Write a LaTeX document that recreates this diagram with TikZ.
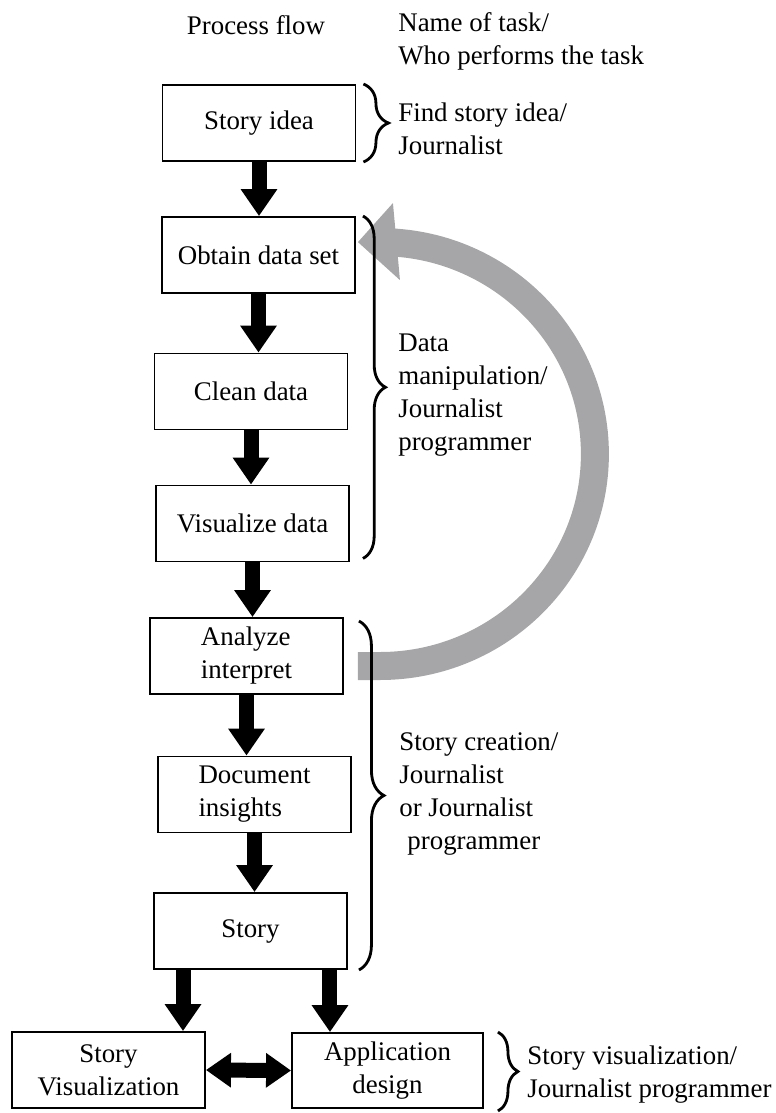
\documentclass[tikz,border=0pt]{standalone}
\usepackage{fontspec}
\setmainfont{Liberation Serif}
\usetikzlibrary{arrows.meta,decorations.pathreplacing,calc}
\definecolor{loopgray}{RGB}{166,166,168}

\begin{document}
\begin{tikzpicture}[x=0.02cm,y=-0.02cm,
    font=\fontsize{15.3}{18.8}\selectfont,
    box/.style={draw,line width=1.1pt,minimum width=3.86cm,minimum height=1.52cm,inner sep=2pt,align=left},
    flow/.style={line width=0.3cm,-{Triangle[width=0.7cm,length=0.54cm]}},
    taskbrace/.style={decorate,decoration={brace,amplitude=#1},line width=1.6pt},
    taskbrace/.default=0.45cm,
    task/.style={anchor=west,align=left,inner sep=0pt}]
    \useasboundingbox (0,0) rectangle (775,1113);

    % headings
    \node (flowhead) at (256,25) {Process flow};
    \node[task] (taskhead) at (398,41) {Name of task/\\Who performs the task};

    % process flow
    \node[box] (idea) at (259,123) {Story idea};
    \node[box] (obtain) at (258.5,255) {Obtain data set};
    \node[box] (clean) at (251,391.5) {Clean data};
    \node[box] (visual) at (252.5,523.5) {Visualize data};
    \node[box] (analyze) at (246.5,656) {Analyze\\interpret};
    \node[box] (insight) at (254.5,794.5) {Document\\insights};
    \node[box] (story) at (250.5,931) {Story};
    \node[box,align=center] (storyvis) at (108.5,1070) {Story\\Visualization};
    \node[box,align=center,minimum width=3.82cm,minimum height=1.5cm] (appdesign) at (387.5,1070.5) {Application\\design};

    \draw[flow] (idea.south) -- (idea.south |- obtain.north);
    \draw[flow] (obtain.south) -- (obtain.south |- clean.north);
    \draw[flow] (clean.south) -- (clean.south |- visual.north);
    \draw[flow] (visual.south) -- (visual.south |- analyze.north);
    \draw[flow] (analyze.south) -- (analyze.south |- insight.north);
    \draw[flow] (insight.south) -- (insight.south |- story.north);
    \draw[flow] ([xshift=-1.35cm]story.south) -- ([xshift=-1.35cm]story.south |- storyvis.north);
    \draw[flow] ([xshift=1.59cm]story.south) -- ([xshift=1.59cm]story.south |- appdesign.north);
    \draw[flow,{Triangle[width=0.66cm,length=0.5cm]}-{Triangle[width=0.66cm,length=0.5cm]}] (storyvis.east) -- (appdesign.west);

    % loop back to the data
    \coordinate (loopstart) at ($(analyze.east)+(14,10)$);
    \draw[loopgray,line width=0.56cm] (loopstart) -- ++(22,0)
        arc[start angle=-90,end angle=90,x radius=4.3cm,y radius=4.24cm] coordinate (loopend);
    \fill[loopgray] ($(loopend)+(-22,0)$) -- ++(35,-39) -- ++(7,77) -- cycle;

    % tasks
    \coordinate (ideatop) at ($(idea.north east)+(7,0)$);
    \coordinate (datatop) at ($(obtain.north east)+(7,0)$);
    \coordinate (storytop) at ($(analyze.north east)+(15,4)$);
    \coordinate (apptop) at ($(appdesign.north east)+(14,0)$);
    \draw[taskbrace=0.5cm] (ideatop) -- (ideatop |- idea.south);
    \draw[taskbrace] (datatop) -- ($(datatop |- visual.south)+(0,-4)$);
    \draw[taskbrace=0.5cm] (storytop) -- (storytop |- story.south);
    \draw[taskbrace=0.4cm] (apptop) -- ($(apptop |- appdesign.south)+(0,2)$);

    \node[task] (findidea) at (398,129) {Find story idea/\\Journalist};
    \node[task] (datamanip) at (398,395) {Data\\manipulation/\\Journalist\\programmer};
    \node[task] (storycreate) at (399,794) {Story creation/\\Journalist\\or Journalist\\\hspace{0.3em}programmer};
    \node[task] (vistask) at (527,1075) {Story visualization/\\Journalist programmer};
\end{tikzpicture}
\end{document}
